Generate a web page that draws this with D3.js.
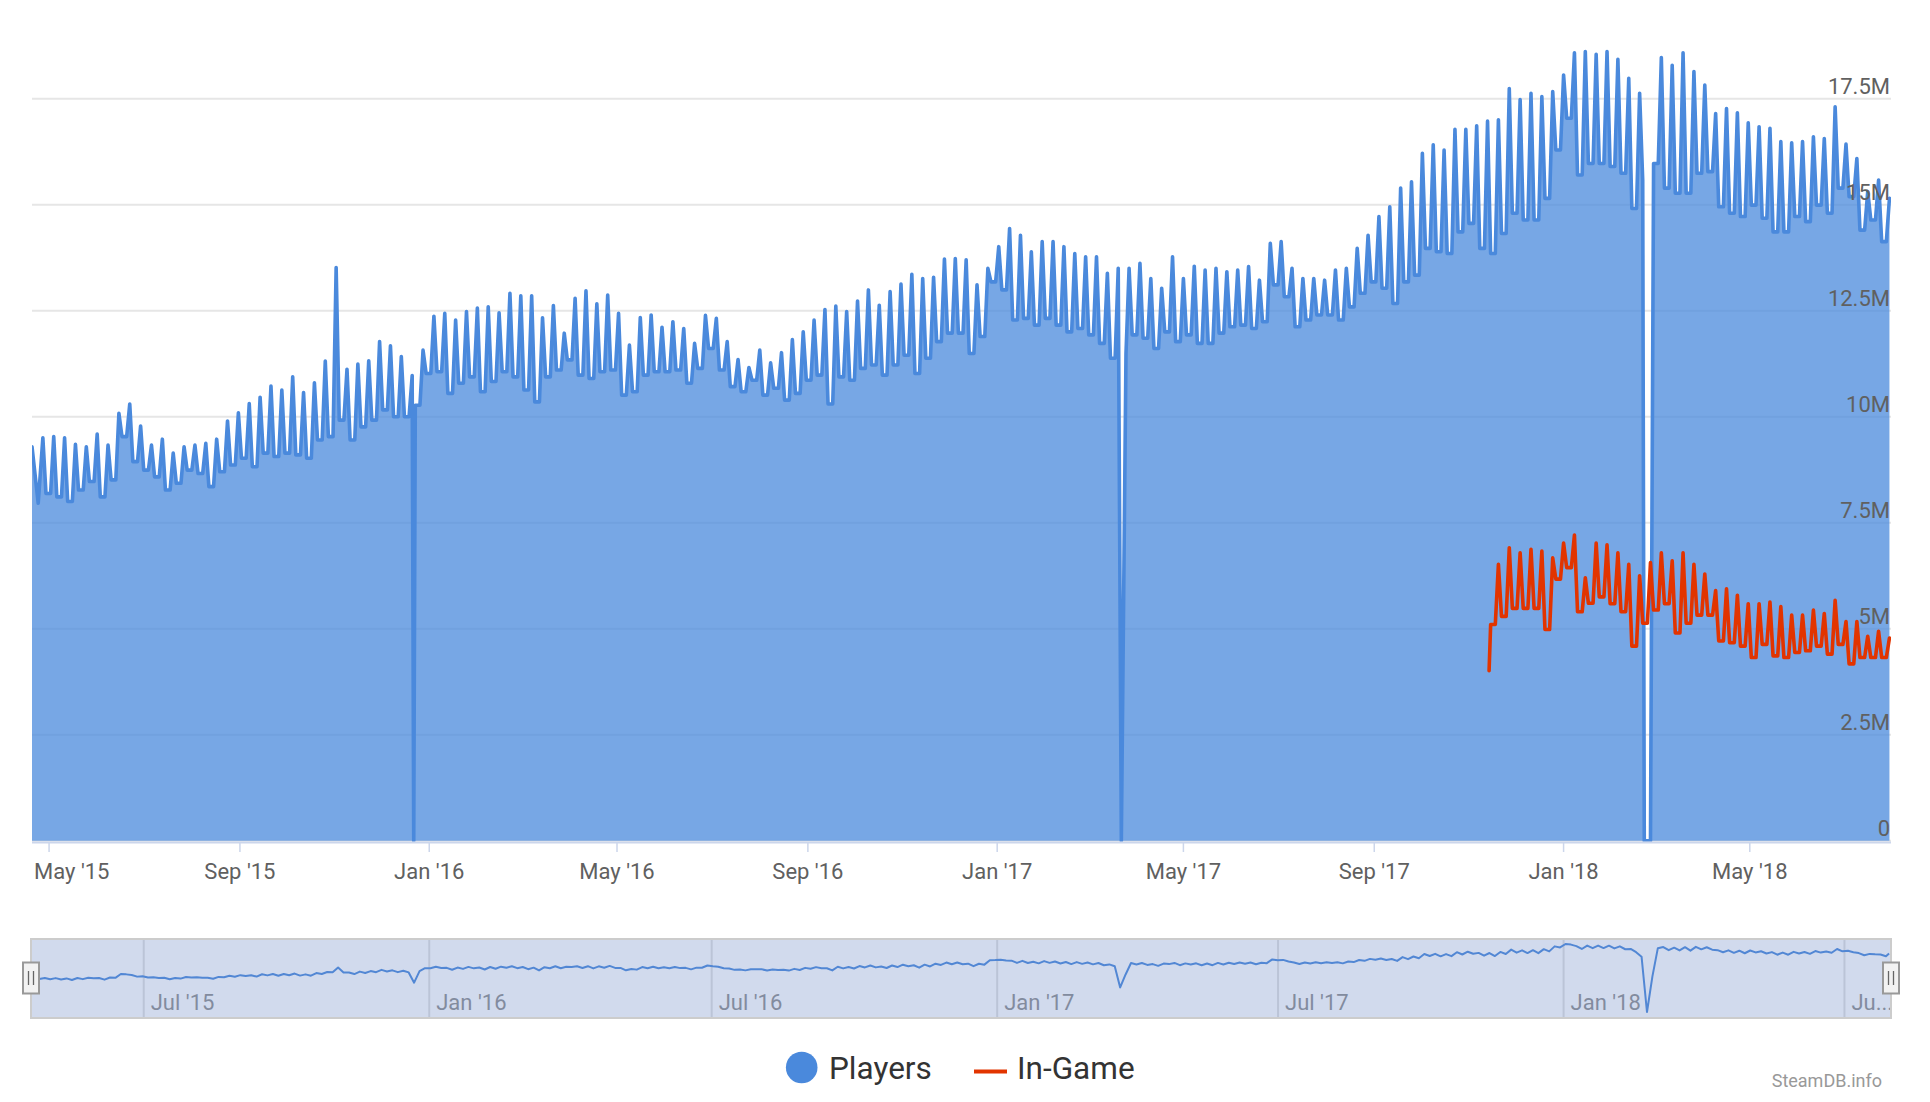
<!DOCTYPE html>
<html><head><meta charset="utf-8">
<script src="https://cdn.jsdelivr.net/npm/d3@7"></script>
<style>
html,body{margin:0;padding:0;background:#fff;}
svg{display:block;font-family:Roboto,"Noto Sans",sans-serif;}
</style></head><body>
<svg id="chart" width="1930" height="1102"></svg>
<script>
// ---------------- DATA (millions of concurrent users) ----------------
const weekAnchor = "2015-04-27";           // date of first weekly peak
const leadDates  = ["2015-04-20", "2015-04-24"];
const leadValues = [9.29, 7.96];

const playerPeaks = [
 9.50, 9.53, 9.50, 9.35, 9.29, 9.59, 9.33,10.08,10.30, 9.78,
 9.33, 9.47, 9.14, 9.29, 9.33, 9.37, 9.47, 9.90,10.09,10.31,
10.46,10.72,10.63,10.94,10.57,10.80,11.31,13.52,11.12,11.24,
11.32,11.77,11.67,11.42,10.97,11.57,12.37,12.44,12.28,12.48,
12.56,12.59,12.45,12.91,12.85,12.85,12.33,12.62,11.97,12.79,
12.97,12.66,12.87,12.44,11.69,12.34,12.40,12.11,12.24,12.08,
11.73,12.39,12.32,11.77,11.35,11.16,11.57,11.27,11.51,11.82,
12.00,12.28,12.53,12.61,12.48,12.73,12.99,12.63,12.95,13.13,
13.36,13.26,13.29,13.72,13.73,13.70,13.11,13.50,14.01,14.44,
14.28,13.89,14.13,14.13,14.01,13.85,13.77,13.77,13.38,13.50,
13.50,13.62,13.26,13.03,13.77,13.26,13.55,13.46,13.50,13.42,
13.46,13.54,13.22,14.09,14.13,13.50,13.26,13.26,13.22,13.46,
13.50,13.97,14.28,14.72,14.95,15.39,15.54,16.21,16.41,16.29,
16.78,16.78,16.86,16.97,17.00,17.74,17.48,17.63,17.55,17.67,
18.06,18.58,18.61,18.55,18.61,18.43,17.98,17.63, null,18.47,
18.29,18.58,18.14,17.82,17.15,17.27,17.17,16.93,16.84,16.80,
16.49,16.46,16.49,16.60,16.56,17.31,16.43,16.09,15.31,15.58,
15.15];

const playerLows = [
 8.19, 8.11, 8.00, 8.27, 8.47, 8.11, 8.51, 9.53, 8.94, 8.74,
 8.58, 8.27, 8.43, 8.74, 8.66, 8.35, 8.70, 8.86, 9.02, 8.82,
 9.14, 9.06, 9.14, 9.10, 9.02, 9.45, 9.53, 9.92, 9.45, 9.76,
 9.92,10.16,10.00,10.00,10.27,11.02,11.06,10.55,10.79,10.94,
10.59,10.83,11.06,10.94,10.63,10.35,10.94,11.10,11.34,10.98,
10.90,11.06,11.10,10.51,10.59,10.98,11.06,11.06,11.10,10.79,
11.14,11.61,11.10,10.71,10.59,10.86,10.51,10.67,10.39,10.55,
10.86,10.98,10.30,10.94,10.86,11.14,11.22,10.98,11.22,11.45,
11.02,11.38,11.77,11.97,11.97,11.49,11.89,13.18,12.99,12.28,
12.32,12.16,12.32,12.16,12.00,12.08,11.93,11.73,11.38,11.49,
11.93,11.85,11.61,12.00,11.77,11.93,11.73,11.73,11.97,12.12,
12.16,12.08,12.24,13.11,12.83,12.12,12.28,12.40,12.40,12.28,
12.59,12.91,13.18,13.03,12.67,13.18,13.34,13.97,13.89,13.85,
14.36,14.56,13.97,13.85,14.32,14.80,14.64,14.64,15.15,16.29,
17.04,15.70,15.97,15.97,15.90,15.74,14.91,15.58,15.97,15.39,
15.27,15.27,15.74,15.78,14.95,14.80,14.72,14.99,14.68,14.36,
14.36,14.72,14.60,14.99,14.80,15.39,15.19,14.40,14.64,14.13];

const outageStart = ["2015-12-22", "2017-03-22", "2018-02-22"];
const outageEnd   = ["2015-12-22", "2017-03-22", "2018-02-26"];

const inGameFirstWeek  = 133;
const inGameLeadDates  = ["2017-11-14"];
const inGameLeadValues = [4.01];
const inGamePeaks = [
 null,6.52,6.91,6.79,6.87,6.83,6.67,7.02,7.21,6.20,
 7.02,6.98,6.79,6.52,6.25,6.56,6.79,6.60,6.79,6.52,
 6.29,5.90,5.94,5.79,5.59,5.59,5.63,5.52,5.32,5.32,
 5.44,5.36,5.67,5.17,5.17,4.82,4.94,4.78];
const inGameLows = [
 5.10,5.29,5.48,5.48,5.48,4.98,6.17,6.44,5.40,5.60,
 5.75,5.59,5.40,4.59,5.13,5.44,5.59,4.90,5.13,5.32,
 5.32,4.71,4.67,4.59,4.32,4.63,4.36,4.32,4.44,4.48,
 4.59,4.40,4.63,4.17,4.32,4.32,4.32];

const yTicks      = [0, 2.5, 5, 7.5, 10, 12.5, 15, 17.5];
const yTickLabels = ["0", "2.5M", "5M", "7.5M", "10M", "12.5M", "15M", "17.5M"];
const xTickDates  = ["2015-05-01","2015-09-01","2016-01-01","2016-05-01","2016-09-01",
                     "2017-01-01","2017-05-01","2017-09-01","2018-01-01","2018-05-01"];
const xTickLabels = ["May '15","Sep '15","Jan '16","May '16","Sep '16",
                     "Jan '17","May '17","Sep '17","Jan '18","May '18"];
const navTickDates  = ["2015-07-01","2016-01-01","2016-07-01","2017-01-01","2017-07-01","2018-01-01","2018-07-01"];
const navTickLabels = ["Jul '15","Jan '16","Jul '16","Jan '17","Jul '17","Jan '18","Jul '18"];
const seriesNames  = ["Players", "In-Game"];
const seriesColors = ["#4a89dc", "#e23400"];
const credit = "SteamDB.info";
const xDomain = ["2015-04-20", "2018-07-31"];

// ---------------- BUILD SERIES ----------------
const parse = d3.utcParse("%Y-%m-%d");
const DAY = 864e5;
const anchor = +parse(weekAnchor);

let players = leadDates.map((d, i) => ({t: parse(d), v: leadValues[i]}));
playerPeaks.forEach((p, i) => {
  const base = anchor + i * 7 * DAY;
  if (p != null) players.push({t: new Date(base), v: p});
  if (i < playerLows.length) {
    players.push({t: new Date(base + 2 * DAY), v: playerLows[i]});
    players.push({t: new Date(base + 5 * DAY), v: playerLows[i]});
  }
});
outageStart.forEach((s, k) => {
  const a = parse(s), b = parse(outageEnd[k]);
  players = players.filter(p => p.t < a || p.t > b);
  players.push({t: a, v: 0});
  if (+b !== +a) players.push({t: b, v: 0});
});
players.sort((a, b) => a.t - b.t);

let inGame = inGameLeadDates.map((d, i) => ({t: parse(d), v: inGameLeadValues[i]}));
inGamePeaks.forEach((p, k) => {
  const base = anchor + (inGameFirstWeek + k) * 7 * DAY;
  if (p != null) inGame.push({t: new Date(base), v: p});
  if (k < inGameLows.length) {
    inGame.push({t: new Date(base + 2 * DAY), v: inGameLows[k]});
    inGame.push({t: new Date(base + 5 * DAY), v: inGameLows[k]});
  }
});
inGame.sort((a, b) => a.t - b.t);

// ---------------- LAYOUT ----------------
const L = 32, R = 1891, TOP = 40, ZERO = 840.7;
const svg = d3.select("#chart");
const x = d3.scaleUtc().domain(xDomain.map(parse)).range([L, R]);
const y = d3.scaleLinear().domain([0, 17.5]).range([ZERO, ZERO - 7 * 106]);

svg.append("defs").append("clipPath").attr("id", "plotclip")
  .append("rect").attr("x", L).attr("y", TOP).attr("width", R - L).attr("height", ZERO - TOP + 1);

// grid
svg.append("g").selectAll("line").data(yTicks).join("line")
  .attr("x1", L).attr("x2", R)
  .attr("y1", d => y(d)).attr("y2", d => y(d))
  .attr("stroke", "#e6e6e6").attr("stroke-width", 2);

const plot = svg.append("g").attr("clip-path", "url(#plotclip)");
plot.append("path").datum(players)
  .attr("d", d3.area().x(d => x(d.t)).y0(y(0)).y1(d => y(d.v)))
  .attr("fill", seriesColors[0]).attr("fill-opacity", 0.75);

// y labels
svg.append("g").selectAll("text").data(yTicks).join("text")
  .attr("x", R - 1).attr("y", d => y(d) - 4.5)
  .attr("text-anchor", "end").attr("font-size", 22).attr("fill", "#606060")
  .text((d, i) => yTickLabels[i]);

// lines
const line = d3.line().x(d => x(d.t)).y(d => y(d.v));
plot.append("path").datum(players).attr("d", line)
  .attr("fill", "none").attr("stroke", seriesColors[0]).attr("stroke-width", 3.6)
  .attr("stroke-linejoin", "round").attr("stroke-linecap", "round");
plot.append("path").datum(inGame).attr("d", line)
  .attr("fill", "none").attr("stroke", seriesColors[1]).attr("stroke-width", 3.6)
  .attr("stroke-linejoin", "round").attr("stroke-linecap", "round");

// x axis
svg.append("line").attr("x1", L).attr("x2", R).attr("y1", 842.5).attr("y2", 842.5)
  .attr("stroke", "#ccd6eb").attr("stroke-width", 2);
const xt = svg.append("g");
xTickDates.forEach((d, i) => {
  const px = x(parse(d));
  xt.append("line").attr("x1", px).attr("x2", px).attr("y1", 843).attr("y2", 852)
    .attr("stroke", "#ccd6eb").attr("stroke-width", 1.5);
  const t = xt.append("text").attr("y", 879).attr("font-size", 22).attr("fill", "#606060")
    .attr("text-anchor", "middle").text(xTickLabels[i]);
  const w = t.node().getComputedTextLength();
  t.attr("x", Math.max(px, L + 2 + w / 2));
});

// ---------------- NAVIGATOR ----------------
const NT = 939, NB = 1018;
const nav = svg.append("g");
nav.append("rect").attr("x", L - 1).attr("y", NT).attr("width", R - L + 1).attr("height", NB - NT)
  .attr("fill", "#fff");
navTickDates.forEach((d, i) => {
  const px = x(parse(d));
  nav.append("line").attr("x1", px).attr("x2", px).attr("y1", NT).attr("y2", NB)
    .attr("stroke", "#e0e0e0").attr("stroke-width", 2);
  const t = nav.append("text").attr("x", px + 7).attr("y", 1009.5)
    .attr("font-size", 22).attr("fill", "#8f8f8f").text(navTickLabels[i]);
  const avail = R + 3 - (px + 7);
  let s = navTickLabels[i];
  while (t.node().getComputedTextLength() > avail && s.length > 1) {
    s = s.slice(0, -1);
    t.text(s + "...");
  }
});
// grouped navigator series (time-averaged bins of 3.5 days)
const bis = d3.bisector(d => d.t).left;
function valueAt(tm) {
  const i = bis(players, tm);
  if (i <= 0) return players[0].v;
  if (i >= players.length) return players[players.length - 1].v;
  const a = players[i - 1], b = players[i];
  const f = (tm - a.t) / (b.t - a.t);
  return a.v + (b.v - a.v) * f;
}
const navPts = [];
const step = 3.5 * DAY;
const tEnd = +players[players.length - 1].t;
let s0 = anchor - 0.5 * DAY;
while (s0 - step > +players[0].t) s0 -= step;
navPts.push({t: players[0].t, v: players[0].v});
for (let s = s0; s < tEnd; s += step) {
  const a = Math.max(s, +players[0].t), e = Math.min(s + step, tEnd);
  let sum = 0, n = 14;
  for (let k = 0; k < n; k++) sum += valueAt(new Date(a + (k + 0.5) * (e - a) / n));
  navPts.push({t: new Date((a + e) / 2), v: sum / n});
}
const ny = d3.scaleLinear().domain([0, d3.max(navPts, d => d.v)]).range([1012, 944]);
nav.append("path").datum(navPts)
  .attr("d", d3.line().x(d => x(d.t)).y(d => ny(d.v)))
  .attr("fill", "none").attr("stroke", seriesColors[0]).attr("stroke-width", 2)
  .attr("stroke-linejoin", "round");
nav.append("rect").attr("x", L - 1).attr("y", NT).attr("width", R - L + 1).attr("height", NB - NT)
  .attr("fill", "rgba(102,133,194,0.3)");
nav.append("rect").attr("x", L - 1).attr("y", NT).attr("width", R - L + 1).attr("height", NB - NT)
  .attr("fill", "none").attr("stroke", "#cccccc").attr("stroke-width", 2);
[L - 1, R].forEach(hx => {
  const g = nav.append("g").attr("transform", `translate(${hx},978)`);
  g.append("rect").attr("x", -8).attr("y", -15.5).attr("width", 16).attr("height", 31)
    .attr("fill", "#f2f2f2").attr("stroke", "#999").attr("stroke-width", 2);
  [-2.5, 2.5].forEach(dx => g.append("line").attr("x1", dx).attr("x2", dx)
    .attr("y1", -7).attr("y2", 7).attr("stroke", "#666").attr("stroke-width", 1.3));
});

// ---------------- LEGEND & CREDIT ----------------
const lg = svg.append("g").attr("font-size", 31.5).attr("fill", "#333");
lg.append("circle").attr("cx", 801.7).attr("cy", 1067.5).attr("r", 15.8).attr("fill", seriesColors[0]);
lg.append("text").attr("x", 829).attr("y", 1079).text(seriesNames[0]);
lg.append("line").attr("x1", 974).attr("x2", 1007).attr("y1", 1071.5).attr("y2", 1071.5)
  .attr("stroke", seriesColors[1]).attr("stroke-width", 4);
lg.append("text").attr("x", 1017).attr("y", 1079).text(seriesNames[1]);

svg.append("text").attr("x", 1882).attr("y", 1087).attr("text-anchor", "end")
  .attr("font-size", 18).attr("fill", "#999").text(credit);
</script>
</body></html>
